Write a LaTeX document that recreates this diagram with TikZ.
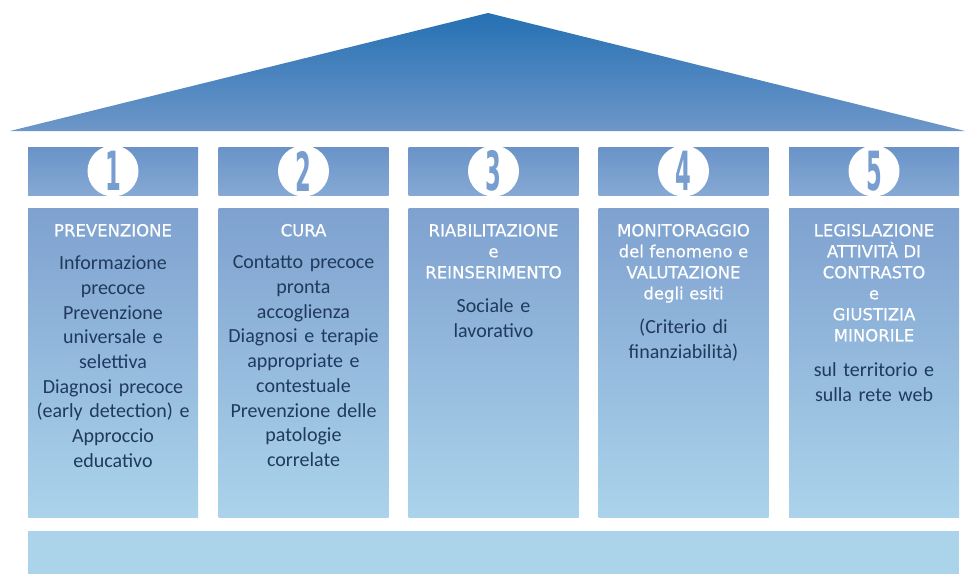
\documentclass[tikz,border=0pt]{standalone}
\usepackage{fontspec}
\setmainfont{Carlito}
\newfontfamily\titlefont[FakeBold=0.6]{DejaVu Sans}
\newfontfamily\digitfont{DejaVu Sans}
\usetikzlibrary{positioning}
\definecolor{roofdark}{HTML}{2570B3}
\definecolor{roofpale}{HTML}{6E97C9}
\definecolor{capitaltop}{HTML}{6993C8}
\definecolor{capitalbottom}{HTML}{86A9D4}
\definecolor{pillartop}{HTML}{7EA1CF}
\definecolor{pillarbottom}{HTML}{ABD3EB}
\definecolor{basecolor}{HTML}{ABD3EA}
\definecolor{digitblue}{HTML}{779ECE}
\definecolor{textnavy}{HTML}{1F3A5C}
\tikzset{
  capital/.style={
    minimum width=170pt,
    minimum height=48pt,
    inner sep=0pt,
    top color=capitaltop,
    bottom color=capitalbottom,
  },
  pillar/.style={
    minimum width=170pt,
    minimum height=309pt,
    inner sep=0pt,
    top color=pillartop,
    bottom color=pillarbottom,
  },
  heading/.style={
    text=white,
    font=\titlefont\fontsize{16.5}{21}\selectfont,
    align=center,
    text width=166pt,
    inner sep=0pt,
  },
  body/.style={
    text=textnavy,
    font=\fontsize{20}{24.7}\selectfont,
    align=center,
    text width=166pt,
    inner sep=0pt,
  },
}

\begin{document}
\begin{tikzpicture}[x=1pt,y=-1pt]
  \useasboundingbox (0,0) rectangle (965,574);

  % Roof
  \shade[top color=roofdark, bottom color=roofpale]
    (10,131) -- (488,13) -- (965,131) -- cycle;

  % Capitals with numbers, and pillars
  \foreach \i/\cx in {1/113,2/303.5,3/493.5,4/683.5,5/874} {
    \node[capital] (c\i) at (\cx,171) {};
    \begin{scope}
      \clip (c\i.south west) rectangle (c\i.north east);
      \fill[white] (c\i.center) circle (25.5pt);
    \end{scope}
    \node[text=digitblue, font=\digitfont\bfseries\fontsize{54}{54}\selectfont,
      inner sep=0pt] (n\i) at (c\i) {\scalebox{0.42}[1]{\i}};
    \node[pillar] (p\i) at (\cx,362.5) {};
  }

  % Base
  \node[minimum width=931pt, minimum height=43pt, inner sep=0pt,
    fill=basecolor] (base) at (493.5,552.5) {};

  % Headings
  \node[heading, below=16pt of p1.north] (h1) {PREVENZIONE};
  \node[heading, below=16pt of p2.north] (h2) {CURA};
  \node[heading, below=16pt of p3.north] (h3) {RIABILITAZIONE\\e\\REINSERIMENTO};
  \node[heading, below=16pt of p4.north] (h4)
    {MONITORAGGIO\\del fenomeno e\\VALUTAZIONE\\degli esiti};
  \node[heading, below=16pt of p5.north] (h5)
    {LEGISLAZIONE\\ATTIVITÀ DI\\CONTRASTO\\e\\GIUSTIZIA\\MINORILE};

  % Contents
  \node[body, below=19pt of h1] (b1)
    {Informazione\\precoce\\Prevenzione\\universale e\\selettiva\\Diagnosi precoce\\(early detection) e\\Approccio\\educativo};
  \node[body, below=19pt of h2] (b2)
    {Contatto precoce\\pronta\\accoglienza\\Diagnosi e terapie\\appropriate e\\contestuale\\Prevenzione delle\\patologie\\correlate};
  \node[body, below=20pt of h3] (b3) {Sociale e\\lavorativo};
  \node[body, below=16pt of h4] (b4) {(Criterio di\\finanziabilità)};
  \node[body, below=21pt of h5] (b5) {sul territorio e\\sulla rete web};
\end{tikzpicture}
\end{document}
